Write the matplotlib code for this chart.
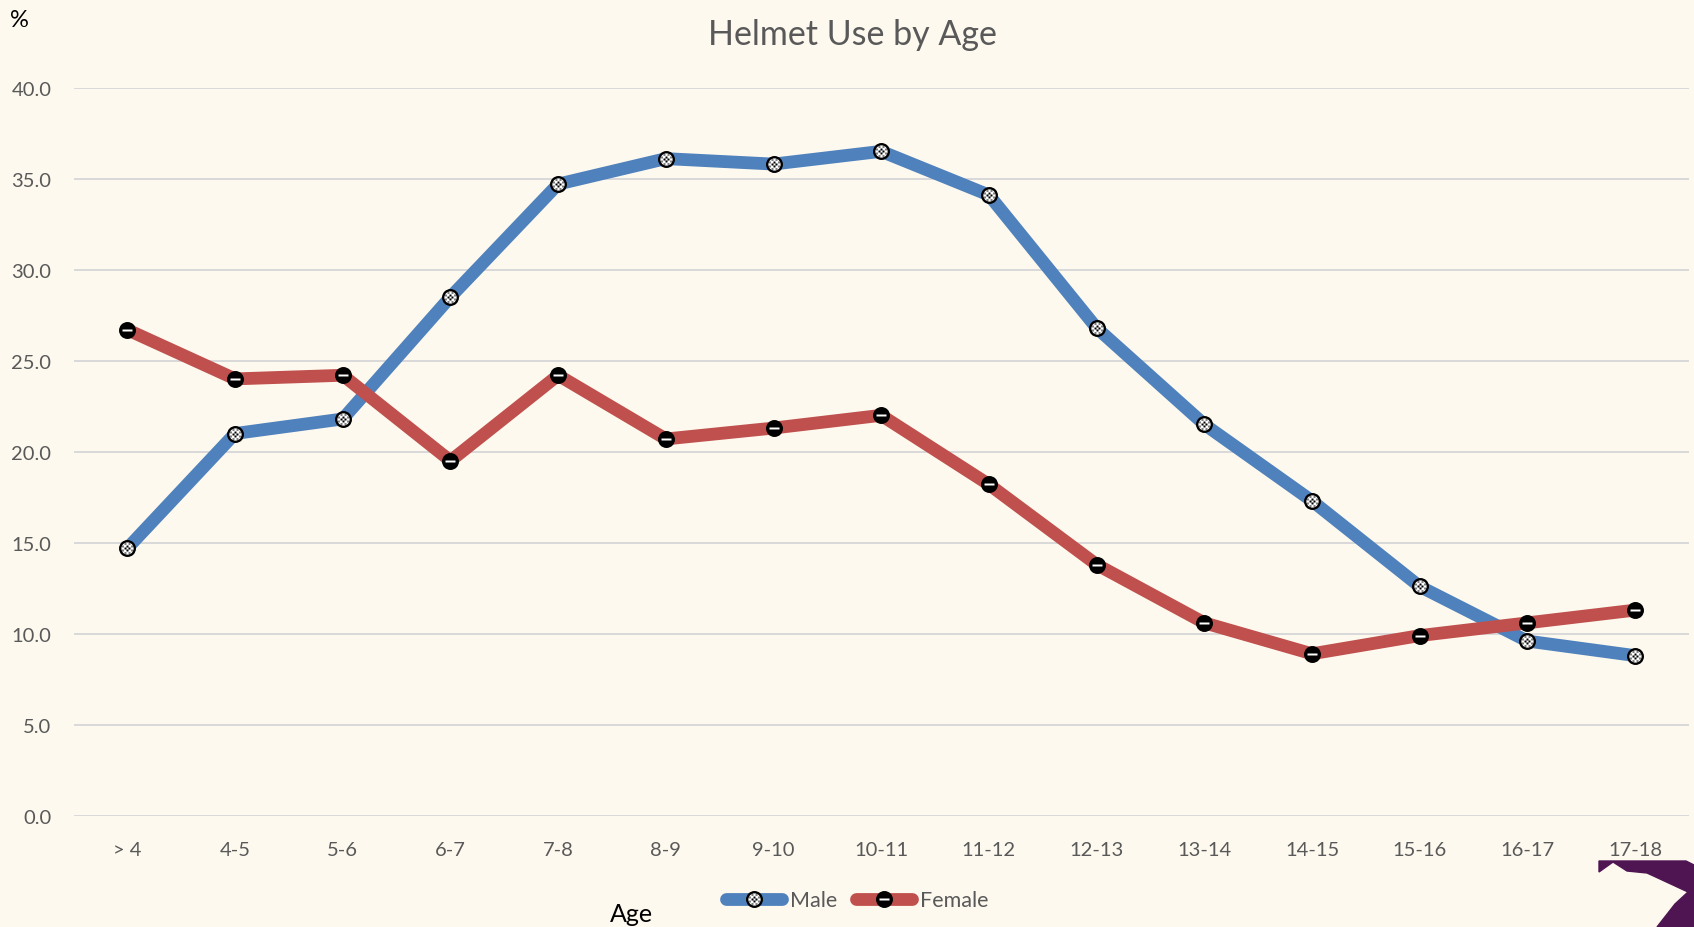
import matplotlib.pyplot as plt
import numpy as np
from matplotlib.path import Path
from matplotlib.patches import Polygon
from matplotlib.legend_handler import HandlerTuple

plt.rcParams['font.family'] = ['Lato', 'DejaVu Sans']

ages = ["> 4", "4-5", "5-6", "6-7", "7-8", "8-9", "9-10", "10-11", "11-12",
        "12-13", "13-14", "14-15", "15-16", "16-17", "17-18"]
male = [14.7, 21.0, 21.8, 28.5, 34.7, 36.1, 35.8, 36.5, 34.1,
        26.8, 21.5, 17.3, 12.6, 9.6, 8.8]
female = [26.7, 24.0, 24.2, 19.5, 24.2, 20.7, 21.3, 22.0, 18.2,
          13.8, 10.6, 8.9, 9.9, 10.6, 11.3]
yticks = [0, 5, 10, 15, 20, 25, 30, 35, 40]

bg = '#fdf9ee'
blue = '#4f81bd'
red = '#c0504d'
grey = '#595959'

# marker shapes: dotted disc for male, bar for female
def square(cx, cy, s):
    return Path([(cx - s, cy - s), (cx + s, cy - s), (cx + s, cy + s),
                 (cx - s, cy + s), (cx - s, cy - s)],
                [Path.MOVETO, Path.LINETO, Path.LINETO, Path.LINETO, Path.CLOSEPOLY])

dots = []
for cy, xs in [(-0.4, [-0.2, 0.2]), (-0.2, [-0.4, 0, 0.4]), (0.0, [-0.2, 0.2]),
               (0.2, [-0.4, 0, 0.4]), (0.4, [-0.2, 0.2])]:
    for cx in xs:
        dots.append(square(cx, cy, 0.075))
dot_marker = Path.make_compound_path(*dots)
bar_marker = Path([(-0.6, -0.16), (0.6, -0.16), (0.6, 0.16), (-0.6, 0.16), (-0.6, -0.16)],
                  [Path.MOVETO, Path.LINETO, Path.LINETO, Path.LINETO, Path.CLOSEPOLY])

fig = plt.figure(figsize=(16.94, 9.28), dpi=100, facecolor=bg)
ax = fig.add_axes([0.0434, 0.1198, 0.9536, 0.7847], facecolor=bg)

x = np.arange(len(ages))
m1, = ax.plot(x, male, color=blue, lw=9.2, marker='o', ms=10.5, mfc='white',
              mec='black', mew=1.7, solid_capstyle='round', zorder=3)
m2, = ax.plot(x, male, ls='none', marker=dot_marker, ms=7.8, mfc='black',
              mec='none', zorder=4)
f1, = ax.plot(x, female, color=red, lw=9.2, marker='o', ms=10.5, mfc='black',
              mec='black', mew=1.7, solid_capstyle='round', zorder=3)
f2, = ax.plot(x, female, ls='none', marker=bar_marker, ms=7.4, mfc='white',
              mec='none', zorder=4)

ax.set_xlim(-0.5, len(ages) - 0.5)
ax.set_ylim(0, 40)
ax.set_yticks(yticks)
ax.set_yticklabels([f"{v:.1f}" for v in yticks])
ax.set_xticks(x)
ax.set_xticklabels(ages)
ax.tick_params(axis='both', length=0, labelsize=14.5, labelcolor=grey)
ax.tick_params(axis='y', pad=16)
ax.tick_params(axis='x', pad=18)
ax.grid(axis='y', color='#d9d9d9', lw=1.4)
ax.set_axisbelow(True)
for s in ax.spines.values():
    s.set_visible(False)

fig.text(0.5035, 0.962, "Helmet Use by Age", ha='center', va='center',
         fontsize=24.5, color=grey)
fig.text(0.006, 0.978, "%", ha='left', va='center', fontsize=17, color='black')
fig.text(0.373, 0.015, "Age", ha='center', va='center', fontsize=18, color='black')

leg = fig.legend([(m1, m2), (f1, f2)], ["Male", "Female"],
                 handler_map={tuple: HandlerTuple(ndivide=1)},
                 loc='center', bbox_to_anchor=(0.506, 0.029), ncol=2,
                 frameon=False, fontsize=15.5, handlelength=2.6,
                 handletextpad=0.35, columnspacing=0.9, borderpad=0)
for t in leg.get_texts():
    t.set_color(grey)

# cut-off logo in the corner
W, H = 1694, 928
logo = [(1599, 862), (1686, 862), (1694, 866), (1694, 928), (1657, 928),
        (1675, 905), (1688, 893), (1660, 880), (1647, 874), (1627, 872),
        (1613, 863), (1599, 873)]
fig.patches.append(Polygon([(px / W, 1 - py / H) for px, py in logo], closed=True,
                           transform=fig.transFigure, color='#4e1552', zorder=5))

fig.savefig("out.png", dpi=100, facecolor=bg)
